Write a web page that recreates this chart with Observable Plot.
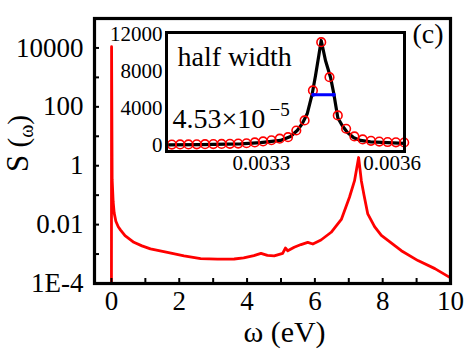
<!DOCTYPE html>
<html><head><meta charset="utf-8">
<script src="https://cdn.jsdelivr.net/npm/d3@7"></script>
<script src="https://cdn.jsdelivr.net/npm/@observablehq/plot@0.6"></script>
<style>
body{margin:0;background:#fff;}
#wrap{position:relative;width:472px;height:354px;overflow:hidden;}
#wrap svg{position:absolute;}
</style></head><body><div id="wrap"></div><script>
// ---- main spectrum S(ω) ----
const mainOmega = [0.0, 0.0034, 0.02, 0.05, 0.08, 0.13, 0.2, 0.27, 0.4, 0.66, 0.9, 1.15, 1.65, 2.14, 2.63, 3.13, 3.62, 3.9, 4.2, 4.41, 4.6, 4.8, 5.05, 5.13, 5.2, 5.39, 5.59, 5.79, 5.94, 6.18, 6.48, 6.78, 7.02, 7.17, 7.29, 7.37, 7.45, 7.56, 7.76, 7.96, 8.55, 9.04, 9.54, 10.0];
const mainS = [1e-4, 11000, 0.35, 0.06, 0.025, 0.013, 0.0085, 0.0065, 0.0042, 0.0025, 0.0019, 0.0015, 0.00115, 0.00087, 0.0007, 0.00067, 0.00068, 0.00074, 0.00089, 0.00106, 0.0009, 0.00087, 0.00106, 0.0016, 0.0013, 0.0017, 0.0021, 0.0025, 0.0022, 0.003, 0.0055, 0.015, 0.085, 0.31, 1.9, 0.31, 0.1, 0.023, 0.0086, 0.0043, 0.0013, 0.0006, 0.00032, 0.000156];
const xTicks = [0,1,2,3,4,5,6,7,8,9,10];
const xTickLabels = ["0","","2","","4","","6","","8","","10"];
const yTicks = [1e-4, 1e-3, 1e-2, 0.1, 1, 10, 100, 1000, 10000];
const yTickLabels = ["1E-4", "", "0.01", "", "1", "", "100", "", "10000"];
const xTitle = "ω (eV)";
const yTitleParts = ["S", " (", "ω", ")"];
const panelLabel = "(c)";

// ---- inset: peak near ω = 0 ----
const pointOmega = [0.0030949, 0.0031139, 0.0031330, 0.0031520, 0.0031710, 0.0031900, 0.0032090, 0.0032281, 0.0032471, 0.0032661, 0.0032851, 0.0033041, 0.0033232, 0.0033422, 0.0033612, 0.0033802, 0.0033992, 0.0034183, 0.0034373, 0.0034563, 0.0034753, 0.0034944, 0.0035134, 0.0035324, 0.0035514, 0.0035704, 0.0035895, 0.0036085, 0.0036275];
const pointS = [100, 110, 115, 125, 140, 150, 165, 180, 200, 240, 330, 430, 560, 730, 890, 1610, 2690, 5920, 11115, 7350, 3230, 1800, 970, 650, 500, 420, 370, 340, 320];
const fitOmega = [0.0030827, 0.0031606, 0.0032523, 0.0032982, 0.0033440, 0.0033669, 0.0033823, 0.0033937, 0.0034052, 0.0034167, 0.0034243, 0.0034318, 0.0034373, 0.0034471, 0.0034586, 0.0034662, 0.0034753, 0.0034854, 0.0034969, 0.0035120, 0.0035274, 0.0035503, 0.0036282];
const fitS = [60, 90, 170, 300, 540, 970, 1610, 2330, 3410, 5560, 7530, 9680, 11300, 9150, 7350, 5560, 2980, 2150, 1430, 830, 540, 380, 215];
const halfOmega = [0.003419, 0.003466];
const halfLevel = [5450, 5450];
const insetXTicks = [0.0033, 0.0036];
const insetXTickLabels = ["0.0033", "0.0036"];
const insetYTicks = [0, 4000, 8000, 12000];
const insetYTickLabels = ["0", "4000", "8000", "12000"];
const halfWidthText = "half width";
const halfWidthMantissa = "4.53×10";
const halfWidthExponent = "−5";

const FONT = "'Liberation Serif', 'Times New Roman', serif";
const mainData = mainOmega.map((w, i) => ({w, s: mainS[i]}));
const pointData = pointOmega.map((w, i) => ({w, s: pointS[i]}));
const fitData = fitOmega.map((w, i) => ({w, s: fitS[i]}));
const halfData = halfOmega.map((w, i) => ({w, s: halfLevel[i]}));
const xLab = new Map(xTicks.map((t, i) => [t, xTickLabels[i]]));
const yLab = new Map(yTicks.map((t, i) => [t, yTickLabels[i]]));
const ixLab = new Map(insetXTicks.map((t, i) => [t, insetXTickLabels[i]]));
const iyLab = new Map(insetYTicks.map((t, i) => [t, insetYTickLabels[i]]));

const main = Plot.plot({
  width: 472, height: 354,
  marginLeft: 94, marginRight: 22, marginTop: 18, marginBottom: 71,
  style: {fontFamily: FONT, fontSize: "27px", color: "black", background: "transparent", overflow: "visible"},
  x: {domain: [-0.5, 10]},
  y: {type: "log", domain: [1e-4, 1e5]},
  marks: [
    Plot.line(mainData, {x: "w", y: "s", stroke: "#ff0000", strokeWidth: 2.8, clip: true}),
    Plot.axisX({ticks: xTicks, tickFormat: d => xLab.get(d), tickSize: -5, tickPadding: 12, strokeWidth: 2, label: null, fontSize: 27}),
    Plot.axisY({ticks: yTicks, tickFormat: d => yLab.get(d), tickSize: -5, tickPadding: 16, strokeWidth: 2, label: null, fontSize: 27}),
    Plot.frame({stroke: "black", strokeWidth: 3.2}),
    Plot.text([xTitle], {frameAnchor: "bottom", dx: 12, dy: 58, lineAnchor: "bottom", fontSize: 30, fill: "black"}),
    Plot.text([panelLabel], {frameAnchor: "top-right", dx: -7, dy: 24, lineAnchor: "bottom", textAnchor: "end", fontSize: 28, fill: "black"})
  ]
});
main.style.left = "0px"; main.style.top = "0px";
const yt = d3.select(main).append("text")
  .attr("transform", "translate(28,143.5) rotate(-90)")
  .attr("text-anchor", "middle").attr("font-family", FONT).attr("fill", "black");
yt.append("tspan").attr("font-size", 31).text(yTitleParts[0]);
yt.append("tspan").attr("font-size", 29).text(yTitleParts[1]);
yt.append("tspan").attr("font-size", 20).attr("dy", 5).text(yTitleParts[2]);
yt.append("tspan").attr("font-size", 29).attr("dy", -5).text(yTitleParts[3]);

const inset = Plot.plot({
  width: 320, height: 185,
  marginLeft: 60, marginRight: 22, marginTop: 32, marginBottom: 34,
  style: {fontFamily: FONT, fontSize: "21px", color: "black", background: "transparent", overflow: "visible"},
  x: {domain: [0.0030827, 0.0036282]},
  y: {domain: [-650, 12160]},
  marks: [
    Plot.line(fitData, {x: "w", y: "s", stroke: "black", strokeWidth: 3.2}),
    Plot.dot(pointData, {x: "w", y: "s", r: 4.3, stroke: "#ff0000", strokeWidth: 1.6, fill: "none"}),
    Plot.line(halfData, {x: "w", y: "s", stroke: "#0000ff", strokeWidth: 3}),
    Plot.dot(halfData, {x: "w", y: "s", r: 2, fill: "#0000ff"}),
    Plot.axisX({ticks: insetXTicks, tickFormat: d => ixLab.get(d), tickSize: 0, tickPadding: 4, label: null, fontSize: 21}),
    Plot.axisY({ticks: insetYTicks, tickFormat: d => iyLab.get(d), tickSize: 0, tickPadding: 4, label: null, fontSize: 21}),
    Plot.frame({stroke: "black", strokeWidth: 3}),
    Plot.text([halfWidthText], {frameAnchor: "top-left", dx: 11, dy: 33, lineAnchor: "bottom", textAnchor: "start", fontSize: 28, fill: "black"}),
    Plot.text([halfWidthMantissa], {frameAnchor: "top-left", dx: 6, dy: 95, lineAnchor: "bottom", textAnchor: "start", fontSize: 28, fill: "black"}),
    Plot.text([halfWidthExponent], {frameAnchor: "top-left", dx: 103, dy: 83, lineAnchor: "bottom", textAnchor: "start", fontSize: 19, fill: "black"})
  ]
});
inset.style.left = "106px"; inset.style.top = "0px";
const wrap = document.getElementById("wrap");
wrap.appendChild(main);
wrap.appendChild(inset);
</script></body></html>
